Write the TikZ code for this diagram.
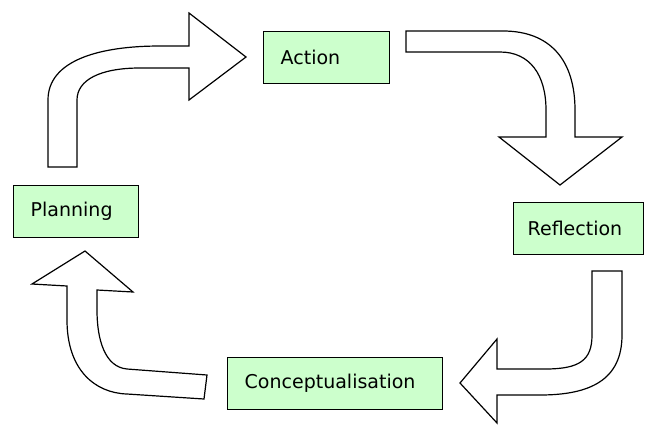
\documentclass[tikz,border=0pt]{standalone}
\usepackage{fontspec}
\setmainfont{DejaVu Sans}
\usepackage{tikz}
\usetikzlibrary{calc,positioning}
\definecolor{stageGreen}{RGB}{204,255,204}

\begin{document}
\begin{tikzpicture}[x=1pt, y=-1pt,
    stage/.style={draw=black, line width=1.4pt, fill=stageGreen, anchor=north west,
      inner xsep=17pt, inner ysep=0pt, minimum height=52pt, align=left,
      font=\fontsize{19}{21}\selectfont},
    bendarrow/.style={draw=black, line width=1.2pt, fill=white, line join=miter}]
        \useasboundingbox (0,0) rectangle (645,424);
        % Stages of the cycle
        \node[stage, text width=92pt]  (action)     at (263,31)  {Action};
        \node[stage, text width=102pt, inner xsep=14pt] (reflection) at (513,202) {Reflection};
        \node[stage, text width=91pt]  (planning)   at (13,185)  {Planning};
        \node[stage, text width=181pt] (concept)    at (227,357) {Conceptualisation};
        % Planning -> Action: up then right
        \draw[bendarrow] (48,167) -- (48,100) .. controls (48,60) and (100,46) .. (160,46)
          -- (189,46) -- (189,13) -- (246,57) -- (189,100) -- (189,68) -- (140,68)
          .. controls (100,68) and (77,80) .. (77,100) -- (77,167) -- cycle;
        % Action -> Reflection: right then down
        \draw[bendarrow] (406,31) -- (503,31) .. controls (550,31) and (575,60) .. (575,110)
          -- (575,137) -- (622,137) -- (560,185) -- (499,137) -- (546,137) -- (546,110)
          .. controls (546,75) and (530,52) .. (500,52) -- (406,52) -- cycle;
        % Reflection -> Conceptualisation: down then left
        \draw[bendarrow] (592,271) -- (622,271) -- (622,335) .. controls (622,380) and (590,395) .. (540,395)
          -- (497,395) -- (497,423) -- (460,383) -- (497,339) -- (497,369) -- (545,369)
          .. controls (580,369) and (592,360) .. (592,335) -- cycle;
        % Conceptualisation -> Planning: left then up
        \draw[bendarrow] (207,375) -- (127,369) .. controls (105,367) and (97,340) .. (97,310)
          -- (97,290) -- (133,292) -- (85,251) -- (32,284) -- (67,286) -- (67,320)
          .. controls (67,370) and (95,393) .. (127,394) -- (204,399) -- cycle;
\end{tikzpicture}
\end{document}
